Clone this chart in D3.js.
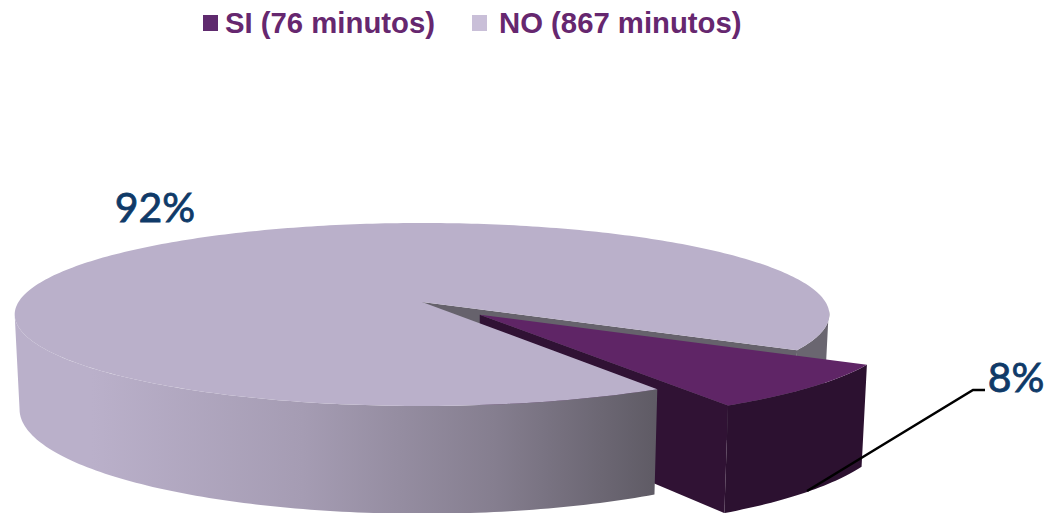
<!DOCTYPE html>
<html>
<head>
<meta charset="utf-8">
<script src="https://cdn.jsdelivr.net/npm/d3@7"></script>
<style>
  html, body { margin: 0; padding: 0; background: #fff; overflow: hidden; }
  svg { display: block; }
</style>
</head>
<body>
<div id="chart"></div>
<script>
const categories = ["SI", "NO"];
const minutes = [76, 867];
const unit = "minutos";

const width = 1046, height = 513;

const topColors = ["#5f2566", "#bab0ca"];
const legendColors = ["#5f2a6e", "#c9bfd8"];
const textPurple = "#66276f", labelBlue = "#0f3a68";

let svg = d3.select("#chart").append("svg")
  .attr("width", width).attr("height", height)
  .attr("viewBox", [0, 0, width, height]);

/* fake 3d: disc coords (u,v) in the unit circle, perspective on v */
const cx = 422, cy = 302, rx = 403.5, ry = 89.8, persp = 0.1366;
const depth = 93, shrink = 0.988; // wall height, bottom rim slightly narrower
const explode = 0.197;
const deg = Math.PI / 180;

function project(u, v, low) {
  let w = 1 + persp * v;
  let x = rx * u / w, y = -ry * v / w;
  if (low) { x *= shrink; y += depth / w; }
  return [cx + x, cy + y];
}

// pie angle -> point on rim (or centre when r = 0), optionally pushed out
function pt(angle, r, off, low) {
  return project(r * Math.sin(angle) + off[0], r * Math.cos(angle) + off[1], low);
}

let pie = d3.pie().sort(null).startAngle(120 * deg).endAngle(480 * deg);
let arcs = pie(minutes);
let si = arcs[0], no = arcs[1];
let mid = (si.startAngle + si.endAngle) / 2;
let off = [explode * Math.sin(mid), explode * Math.cos(mid)];
let none = [0, 0];

let line = d3.line();

function rim(a0, a1, o, low) {
  let n = Math.max(2, Math.ceil(Math.abs(a1 - a0) / deg));
  return d3.range(n + 1).map(i => pt(a0 + (a1 - a0) * i / n, 1, o, low));
}
function wall(a0, a1, o) {
  return line(rim(a0, a1, o, false).concat(rim(a1, a0, o, true))) + "Z";
}
function wedge(a0, a1, o) {
  return line([pt(0, 0, o, false)].concat(rim(a0, a1, o, false))) + "Z";
}
function cut(a, o) {
  return line([pt(0, 0, o, false), pt(a, 1, o, false), pt(a, 1, o, true), pt(0, 0, o, true)]) + "Z";
}

let defs = svg.append("defs");
let grad = defs.append("linearGradient").attr("id", "side")
  .attr("gradientUnits", "userSpaceOnUse")
  .attr("x1", 15).attr("x2", 655).attr("y1", 0).attr("y2", 0);
grad.selectAll("stop")
  .data([[0, "#bab0ca"], [0.12, "#bab0ca"], [0.45, "#a59cb3"], [0.75, "#857e8f"], [1, "#5f5b65"]])
  .join("stop")
  .attr("offset", d => d[0])
  .attr("stop-color", d => d[1]);

// back part of the big slice first, the exploded slice sits in front of it
svg.append("path").attr("d", wall(si.startAngle - 25 * deg, si.startAngle, none)).attr("fill", "#6a6670");
svg.append("path").attr("d", cut(si.startAngle, none)).attr("fill", "#66626c");

// exploded slice
svg.append("path").attr("d", cut(si.endAngle, off)).attr("fill", "#301234");
svg.append("path").attr("d", wall(si.startAngle, si.endAngle, off)).attr("fill", "#2c1130");
svg.append("path").attr("d", wedge(si.startAngle, si.endAngle, off)).attr("fill", topColors[0]);

// big slice, front wall then top
svg.append("path").attr("d", wall(no.startAngle, 262 * deg, none)).attr("fill", "url(#side)");
svg.append("path").attr("d", wedge(no.startAngle, no.endAngle, none)).attr("fill", topColors[1]);

// leader line of the small slice
svg.append("path")
  .attr("d", line([[807, 491], [973, 390], [985, 390]]))
  .attr("fill", "none").attr("stroke", "#000").attr("stroke-width", 2.5);

// percent labels
let pct = d3.format(".0%"), total = d3.sum(minutes);
svg.append("g").selectAll("text")
  .data(minutes)
  .join("text")
  .attr("x", (d, i) => [1016, 155][i])
  .attr("y", (d, i) => [392, 222][i])
  .attr("text-anchor", "middle")
  .attr("font-family", "Lato, sans-serif")
  .attr("font-size", 41)
  .attr("stroke", labelBlue)
  .attr("stroke-width", 0.8)
  .attr("fill", labelBlue)
  .text(d => pct(d / total));

// legend
let legend = svg.append("g").selectAll("g")
  .data(categories)
  .join("g")
  .attr("transform", (d, i) => `translate(${[203, 472][i]},0)`);
legend.append("rect")
  .attr("y", 15).attr("width", 15).attr("height", 16)
  .attr("fill", (d, i) => legendColors[i]);
legend.append("text")
  .attr("x", (d, i) => [22, 27][i]).attr("y", 33)
  .attr("font-family", "'Liberation Sans', Arial, sans-serif")
  .attr("font-weight", "bold")
  .attr("font-size", 29.3)
  .attr("fill", textPurple)
  .text((d, i) => `${d} (${minutes[i]} ${unit})`);
</script>
</body>
</html>
